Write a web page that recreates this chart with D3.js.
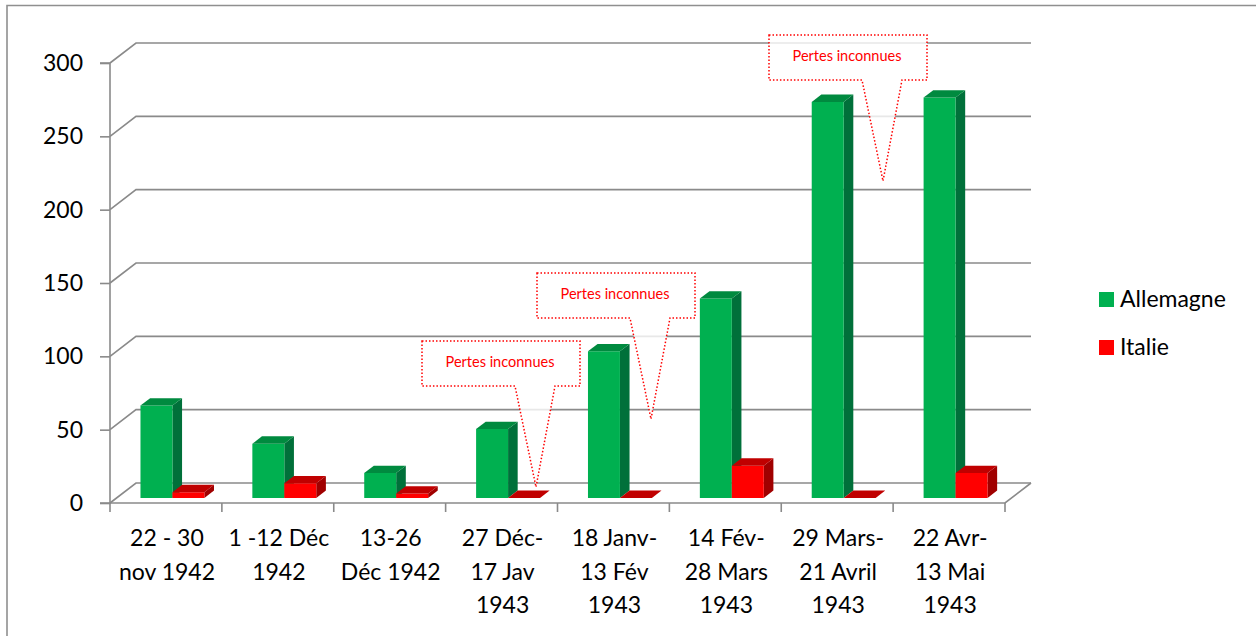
<!DOCTYPE html>
<html>
<head>
<meta charset="utf-8">
<script src="https://cdn.jsdelivr.net/npm/d3@7"></script>
<style>
  html, body { margin: 0; padding: 0; background: #fff; }
  svg { display: block; font-family: Lato, "Open Sans", sans-serif; }
</style>
</head>
<body>
<svg id="chart" width="1256" height="636"></svg>
<script>
// ---- data ----
const categories = [
  ["22 - 30", "nov 1942"],
  ["1 -12 Déc", "1942"],
  ["13-26", "Déc 1942"],
  ["27 Déc-", "17 Jav", "1943"],
  ["18 Janv-", "13 Fév", "1943"],
  ["14 Fév-", "28 Mars", "1943"],
  ["29 Mars-", "21 Avril", "1943"],
  ["22 Avr-", "13 Mai", "1943"]
];
const seriesNames = ["Allemagne", "Italie"];
const allemagne = [63, 37, 17, 47, 100, 136, 270, 273];
const italie = [4, 10, 3, 0, 0, 22, 0, 17];
const yTicks = [0, 50, 100, 150, 200, 250, 300];
const calloutText = "Pertes inconnues";
const calloutCategories = [3, 4, 6];

// ---- layout / style ----
const svg = d3.select("#chart");
const DX = 26, DY = 20;           // depth projection of full floor depth
const Z0 = 0.25, Z1 = 0.62;       // bar depth range
const colors = {
  Allemagne: { front: "#00B050", side: "#00703A", top: "#008A3F" },
  Italie:    { front: "#FF0000", side: "#A00000", top: "#C00000" }
};
const gridColor = "#8a8a8a";

const y = d3.scaleLinear().domain([0, 300]).range([503, 63]);
const x = d3.scaleBand().domain(d3.range(categories.length)).range([110, 1005]).padding(0);
const xs = d3.scaleBand().domain(seriesNames).range([0, x.bandwidth()]).paddingOuter(0.75).paddingInner(0);

const P = (px, v, z) => [px + DX * z, y(v) - DY * z];
const poly = pts => "M" + pts.map(p => p.join(",")).join("L") + "Z";

// frame
svg.append("path").attr("d", "M7,636V5.5H1256")
  .attr("fill", "none").attr("stroke", "#8f8f8f").attr("stroke-width", 1.6);

// back wall gridlines + left wall diagonals
const g = svg.append("g");
yTicks.forEach(t => {
  const a = P(x.range()[0], t, 0), b = P(x.range()[0], t, 1), c = P(x.range()[1], t, 1);
  g.append("path").attr("d", `M${a}L${b}L${c}`)
    .attr("fill", "none").attr("stroke", gridColor).attr("stroke-width", 1.6);
});
// floor front edge and right diagonal
{
  const a = P(x.range()[0], 0, 0), b = P(x.range()[1], 0, 0), c = P(x.range()[1], 0, 1);
  g.append("path").attr("d", `M${a}L${b}L${c}`)
    .attr("fill", "none").attr("stroke", gridColor).attr("stroke-width", 1.6);
}
// y axis
const yAxis = d3.axisLeft(y).tickValues(yTicks).tickSize(10).tickPadding(17);
const ya = svg.append("g").attr("transform", `translate(${x.range()[0]},0)`).call(yAxis);
ya.select(".domain").attr("stroke", gridColor).attr("stroke-width", 1.6).attr("d", `M-10,${y(300)}H0V${y(0)}H-10`);
ya.selectAll(".tick line").attr("stroke", gridColor).attr("stroke-width", 1.6);
ya.selectAll(".tick text").attr("font-size", 23).attr("fill", "#000").attr("font-family", "Lato");

// category boundary ticks
const bounds = d3.range(categories.length + 1).map(i => x.range()[0] + i * x.step());
svg.append("g").selectAll("line").data(bounds).join("line")
  .attr("x1", d => d).attr("x2", d => d).attr("y1", y(0)).attr("y2", y(0) + 9)
  .attr("stroke", gridColor).attr("stroke-width", 1.6);

// category labels
const labels = svg.append("g").attr("font-size", 23).attr("text-anchor", "middle").attr("fill", "#000");
categories.forEach((lines, i) => {
  const t = labels.append("text").attr("x", x(i) + x.bandwidth() / 2 + 1).attr("y", 546);
  lines.forEach((l, j) => t.append("tspan").attr("x", x(i) + x.bandwidth() / 2 + 1).attr("dy", j === 0 ? 0 : 33.5).text(l));
});

// bars
const series = [ { name: "Allemagne", values: allemagne }, { name: "Italie", values: italie } ];
const bars = svg.append("g");
categories.forEach((c, i) => {
  series.forEach(s => {
    const v = s.values[i];
    const x0 = x(i) + xs(s.name), x1 = x0 + xs.bandwidth();
    const col = colors[s.name];
    // side face
    bars.append("path").attr("d", poly([P(x1, 0, Z0), P(x1, 0, Z1), P(x1, v, Z1), P(x1, v, Z0)])).attr("fill", col.side);
    // front face
    bars.append("path").attr("d", poly([P(x0, 0, Z0), P(x1, 0, Z0), P(x1, v, Z0), P(x0, v, Z0)])).attr("fill", col.front);
    // top face
    bars.append("path").attr("d", poly([P(x0, v, Z0), P(x1, v, Z0), P(x1, v, Z1), P(x0, v, Z1)])).attr("fill", col.top);
  });
});

// callouts
const calloutLayout = [
  { left: 422, top: 341 },
  { left: 537, top: 273 },
  { left: 769, top: 35 }
];
const cw = 158, ch = 45;
calloutCategories.forEach((ci, k) => {
  const L = calloutLayout[k].left, T = calloutLayout[k].top;
  const B = T + ch, R = L + cw;
  const d = `M${L},${T}H${R}V${B}H${L + 133}L${L + 114},${B + 101}L${L + 93},${B}H${L}Z`;
  svg.append("path").attr("d", d)
    .attr("fill", "#fff").attr("fill-opacity", 0.8)
    .attr("stroke", "#FF0000").attr("stroke-width", 1.5).attr("stroke-dasharray", "1.5,2");
  svg.append("text").attr("x", L + 78).attr("y", T + 26)
    .attr("text-anchor", "middle").attr("font-size", 14.5).attr("fill", "#FF0000")
    .text(calloutText);
});

// legend
const legend = svg.append("g");
seriesNames.forEach((n, i) => {
  const yy = 292 + i * 48;
  legend.append("rect").attr("x", 1099).attr("y", yy).attr("width", 15).attr("height", 15).attr("fill", colors[n].front);
  legend.append("text").attr("x", 1120).attr("y", yy + 15).attr("font-size", 23).attr("fill", "#000").text(n);
});
</script>
</body>
</html>
